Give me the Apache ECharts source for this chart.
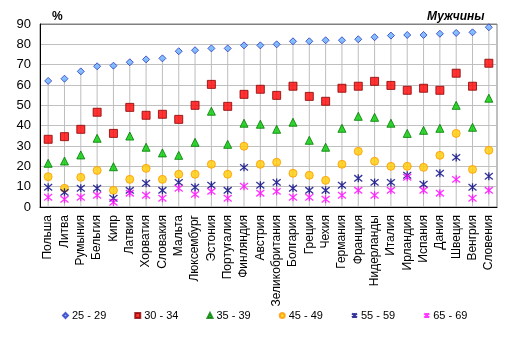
<!DOCTYPE html>
<html>
<head>
<meta charset="utf-8">
<script src="https://cdn.jsdelivr.net/npm/echarts@6/dist/echarts.min.js"></script>
<style>
  html, body { margin: 0; padding: 0; background: #fff; }
  #chart { width: 513px; height: 338px; }
</style>
</head>
<body>
<div id="chart"></div>
<script>
// Share of men in employment by age group, EU countries (%)
const categories = [
  'Польша', 'Литва', 'Румыния', 'Бельгия', 'Кипр', 'Латвия', 'Хорватия',
  'Словакия', 'Мальта', 'Люксембург', 'Эстония', 'Португалия', 'Финляндия',
  'Австрия', 'Зеликобритания', 'Болгария', 'Греция', 'Чехия', 'Германия',
  'Франция', 'Нидерланды', 'Италия', 'Ирландия', 'Испания', 'Дания',
  'Швеция', 'Венгрия', 'Словения'
];

const age25_29 = [62.0, 63.1, 66.7, 69.2, 69.5, 71.2, 72.6, 73.1, 76.6, 77.1,
  78.0, 78.0, 79.5, 79.5, 80.0, 81.5, 81.5, 82.0, 82.0, 82.5, 83.5, 84.3,
  84.6, 84.6, 85.2, 85.6, 85.9, 88.4];
const age30_34 = [33.3, 34.6, 38.2, 46.6, 36.2, 49.0, 45.1, 45.6, 43.1, 50.0,
  60.3, 49.5, 55.4, 57.9, 54.9, 59.4, 54.4, 52.0, 58.4, 59.4, 61.8, 59.8,
  57.4, 58.4, 57.4, 65.8, 59.4, 70.7];
const age35_39 = [21.5, 22.6, 25.6, 33.8, 19.8, 34.9, 29.4, 26.6, 25.4, 31.8,
  47.1, 30.8, 41.2, 40.7, 38.2, 41.7, 32.8, 29.4, 38.7, 44.6, 44.1, 41.2,
  36.2, 37.7, 38.7, 50.0, 39.2, 53.5];
const age45_49 = [14.9, 9.2, 14.6, 18.0, 8.2, 13.6, 19.0, 13.6, 16.1, 16.1,
  21.0, 16.1, 29.9, 21.0, 22.0, 16.6, 15.6, 13.1, 21.0, 27.4, 22.5, 20.0,
  20.0, 19.5, 25.4, 36.2, 18.5, 27.9];
const age55_59 = [9.7, 7.2, 9.2, 9.2, 4.3, 8.2, 11.7, 8.2, 12.1, 9.7,
  10.7, 8.2, 19.5, 10.7, 12.1, 9.2, 8.2, 8.2, 10.7, 14.1, 12.1, 12.1,
  15.6, 11.2, 16.6, 24.4, 9.7, 15.1];
const age65_69 = [4.8, 3.8, 4.8, 5.8, 2.3, 6.8, 5.8, 4.3, 9.2, 6.2,
  7.7, 4.3, 10.2, 6.8, 7.7, 4.8, 4.8, 3.8, 5.8, 8.2, 5.8, 8.2,
  14.6, 8.2, 6.8, 13.6, 4.3, 8.2];

const yTicks = { min: 0, max: 90, interval: 10 };

const groups = [
  { name: '25 - 29', data: age25_29 },
  { name: '30 - 34', data: age30_34 },
  { name: '35 - 39', data: age35_39 },
  { name: '45 - 49', data: age45_49 },
  { name: '55 - 59', data: age55_59 },
  { name: '65 - 69', data: age65_69 }
];

const FONT = '"Liberation Sans", Arial, sans-serif';
const STAR = 'path://M5 0L5 10M0 1L10 9M10 1L0 9';

const markerStyles = [
  { symbol: 'diamond', symbolSize: 7, itemStyle: { color: '#66b2ff', borderColor: '#2a35c0', borderWidth: 1 } },
  { symbol: 'rect', symbolSize: 8, itemStyle: { color: '#ff0000', borderColor: '#8b0000', borderWidth: 1 } },
  { symbol: 'triangle', symbolSize: 8, itemStyle: { color: '#00cc00', borderColor: '#007a00', borderWidth: 1 } },
  { symbol: 'circle', symbolSize: 8, itemStyle: { color: '#ffcc00', borderColor: '#ff9900', borderWidth: 1 } },
  { symbol: STAR, symbolSize: 8, itemStyle: { color: 'transparent', borderColor: '#000080', borderWidth: 1.3 } },
  { symbol: STAR, symbolSize: 8, itemStyle: { color: 'transparent', borderColor: '#ff00ff', borderWidth: 1.3 } }
];

// Drop lines run from the highest point of each country down to the axis
const dropTop = categories.map((_, i) => Math.max(...groups.map(g => g.data[i])));

// Horizontal grid lines: light grey, the top one matches the frame
const tickCount = (yTicks.max - yTicks.min) / yTicks.interval + 1;
const splitColors = Array.from({ length: tickCount }, (_, i) => i === tickCount - 1 ? '#808080' : '#c0c0c0');

const chart = echarts.init(document.getElementById('chart'), null, { renderer: 'canvas' });

chart.setOption({
  backgroundColor: '#ffffff',
  animation: false,
  textStyle: { fontFamily: FONT },
  title: [
    { text: '%', left: 47, top: 6, textStyle: { fontFamily: FONT, fontSize: 12, fontWeight: 'bold', color: '#000' } },
    { text: 'Мужчины', left: 422, top: 6, textStyle: { fontFamily: FONT, fontSize: 12, fontWeight: 'bold', fontStyle: 'italic', color: '#000' } }
  ],
  grid: {
    left: 40, right: 16, top: 24, bottom: 131,
    show: true, borderColor: '#808080', borderWidth: 1, backgroundColor: '#ffffff'
  },
  legend: {
    data: groups.map(g => g.name),
    left: 62, top: 310, padding: 0,
    itemWidth: 5, itemHeight: 5, itemGap: 28,
    textStyle: { fontFamily: FONT, fontSize: 11, color: '#000', padding: [0, 0, 0, -1] }
  },
  xAxis: {
    type: 'category',
    data: categories,
    boundaryGap: true,
    axisLine: { show: true, lineStyle: { color: '#000', width: 1 } },
    axisTick: { show: false },
    splitLine: { show: false },
    axisLabel: { interval: 0, rotate: 90, margin: 8, fontSize: 12, fontFamily: FONT, color: '#000' }
  },
  yAxis: {
    type: 'value',
    min: yTicks.min, max: yTicks.max, interval: yTicks.interval,
    axisLine: { show: true, lineStyle: { color: '#000', width: 1 } },
    axisTick: { show: false },
    splitLine: { show: true, lineStyle: { color: splitColors, width: 1 } },
    axisLabel: { margin: 9, fontSize: 13, fontFamily: FONT, color: '#000' }
  },
  series: [
    {
      name: 'drop',
      type: 'bar',
      data: dropTop,
      barWidth: 1,
      silent: true,
      z: 1,
      itemStyle: { color: '#bdbdbd' }
    },
    ...groups.map((g, i) => ({
      name: g.name,
      type: 'scatter',
      data: g.data,
      z: 3 + i,
      symbol: markerStyles[i].symbol,
      symbolSize: markerStyles[i].symbolSize,
      itemStyle: markerStyles[i].itemStyle
    }))
  ]
});
</script>
</body>
</html>
